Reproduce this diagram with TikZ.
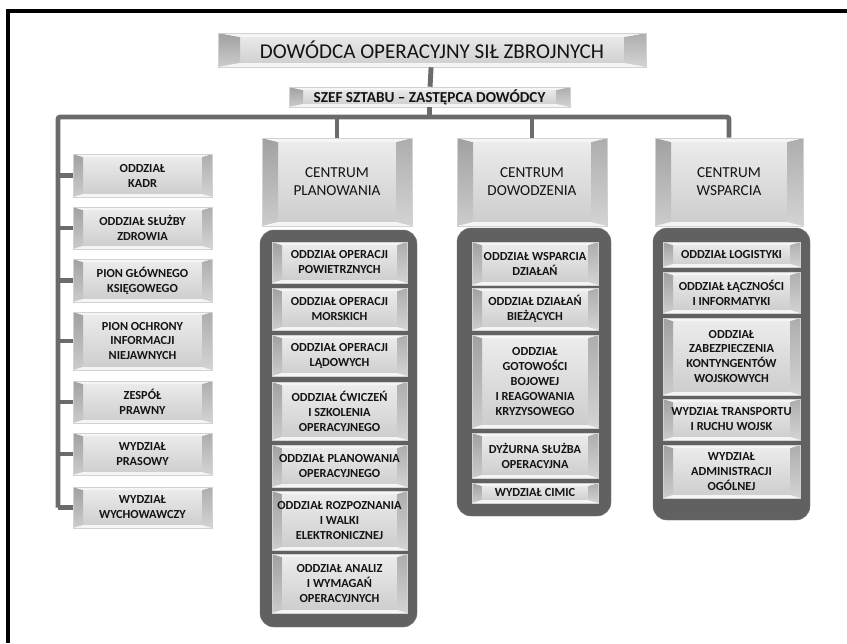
\documentclass[tikz,border=0pt]{standalone}
\usepackage{fontspec}
\setmainfont{Carlito}
\usepackage{tikz}
\tikzset{bev/.store in=\bevx, bevy/.store in=\bevy, bev=10, bevy=3}
% bevelled box between (x1,y1) and (x2,y2), sizes in px
\newcommand{\bevbox}[7][]{%
  \pgfmathsetmacro{\bw}{(#5-#3)*0.03}%
  \pgfmathsetmacro{\bh}{(#6-#4)*0.03}%
  \node[bevel,minimum width=\bw cm,minimum height=\bh cm,#1] (#2) at ({(#3+#5)/2},{(#4+#6)/2}) {#7};%
}
% a stack of boxes: prefix, x1, x2, {top/bottom/text,...}
\newcommand{\boxcol}[4]{%
  \foreach \ya/\yb/\txt [count=\i] in {#4}{
    \bevbox[sub]{#1\i}{#2}{\ya}{#3}{\yb}{\txt}
  }%
}

\begin{document}
\begin{tikzpicture}[x=0.03cm,y=-0.03cm,
    bevel/.style={draw=gray!35,line width=.5pt,top color=gray!14,bottom color=gray!40,
      text=black!92,align=center,inner sep=0pt,
      path picture={
        \shade[top color=gray!74,bottom color=gray!40] (path picture bounding box.north west) -- ++(\bevx,\bevy)
          -- ([shift={(\bevx,-\bevy)}]path picture bounding box.south west) -- (path picture bounding box.south west) -- cycle;
        \shade[top color=gray!64,bottom color=gray!34] (path picture bounding box.north east) -- ++(-\bevx,\bevy)
          -- ([shift={(-\bevx,-\bevy)}]path picture bounding box.south east) -- (path picture bounding box.south east) -- cycle;
        \fill[gray!8] (path picture bounding box.north west) -- (path picture bounding box.north east) -- ++(-\bevx,\bevy)
          -- ([shift={(\bevx,\bevy)}]path picture bounding box.north west) -- cycle;
        \fill[white!92!gray] (path picture bounding box.south west) -- (path picture bounding box.south east) -- ++(-\bevx,-\bevy)
          -- ([shift={(\bevx,-\bevy)}]path picture bounding box.south west) -- cycle;
      }},
    sub/.style={font=\bfseries\fontsize{10.5}{12.8}\selectfont},
    ctr/.style={bev=16,bevy=4,font=\fontsize{13}{15.4}\selectfont},
    pod/.style={fill=black!62,draw=black!55,rounded corners=12pt},
    conn/.style={draw=black!58,line width=4.2pt,rounded corners=2pt}]
  \useasboundingbox (0,0) rectangle (847,643);
  \draw[line width=2.6pt] (8,643) |- (847,11);

  % dark frames behind the three centres
  \path[pod] (260,230) rectangle (417,627);
  \path[pod] (457,228) rectangle (611,516);
  \path[pod] (653,228) rectangle (810,520);

  \bevbox[bev=22,bevy=4,font=\fontsize{18}{20}\selectfont]{dow}{218}{33}{646}{67}{DOWÓDCA OPERACYJNY SIŁ ZBROJNYCH}
  \bevbox[bev=14,bevy=3,font=\bfseries\fontsize{13}{15}\selectfont]{szef}{289}{87}{570}{107}{SZEF SZTABU – ZASTĘPCA DOWÓDCY}
  \bevbox[ctr]{cp}{262}{138}{412}{226}{CENTRUM\\PLANOWANIA}
  \bevbox[ctr]{cd}{457}{138}{607}{226}{CENTRUM\\DOWODZENIA}
  \bevbox[ctr]{cw}{655}{138}{803}{226}{CENTRUM\\WSPARCIA}

  \boxcol{l}{73}{212}{154/197/{ODDZIAŁ\\KADR}, 207/249/{ODDZIAŁ SŁUŻBY\\ZDROWIA},
    259/302/{PION GŁÓWNEGO\\KSIĘGOWEGO}, 312/370/{PION OCHRONY\\INFORMACJI\\NIEJAWNYCH},
    381/423/{ZESPÓŁ\\PRAWNY}, 433/475/{WYDZIAŁ\\PRASOWY}, 487/528/{WYDZIAŁ\\WYCHOWAWCZY}}
  \boxcol{p}{272}{407}{242/283/{ODDZIAŁ OPERACJI\\POWIETRZNYCH}, 288/330/{ODDZIAŁ OPERACJI\\MORSKICH},
    335/376/{ODDZIAŁ OPERACJI\\LĄDOWYCH}, 382/440/{ODDZIAŁ ĆWICZEŃ\\I SZKOLENIA\\OPERACYJNEGO},
    445/487/{ODDZIAŁ PLANOWANIA\\OPERACYJNEGO}, 491/550/{ODDZIAŁ ROZPOZNANIA\\I WALKI\\ELEKTRONICZNEJ},
    554/613/{ODDZIAŁ ANALIZ\\I WYMAGAŃ\\OPERACYJNYCH}}
  \boxcol{d}{472}{598}{242/285/{ODDZIAŁ WSPARCIA\\DZIAŁAŃ}, 288/330/{ODDZIAŁ DZIAŁAŃ\\BIEŻĄCYCH},
    335/428/{ODDZIAŁ\\GOTOWOŚCI\\BOJOWEJ\\I REAGOWANIA\\KRYZYSOWEGO},
    433/478/{DYŻURNA SŁUŻBA\\OPERACYJNA}, 483/503/{WYDZIAŁ CIMIC}}
  \boxcol{w}{663}{800}{242/267/{ODDZIAŁ LOGISTYKI}, 272/313/{ODDZIAŁ ŁĄCZNOŚCI\\I INFORMATYKI},
    318/395/{ODDZIAŁ\\ZABEZPIECZENIA\\KONTYNGENTÓW\\WOJSKOWYCH},
    399/440/{WYDZIAŁ TRANSPORTU\\I RUCHU WOJSK}, 445/498/{WYDZIAŁ\\ADMINISTRACJI\\OGÓLNEJ}}

  % connectors
  \coordinate (bl) at (58,117);
  \draw[conn] (dow) -- (szef);
  \draw[conn] (szef.south) -- (szef.south |- bl);
  \draw[conn] (bl |- l7) -- (bl) -| (cw.north);
  \draw[conn] (cp.north |- bl) -- (cp.north);
  \draw[conn] (cd.north |- bl) -- (cd.north);
  \foreach \i in {1,...,7}
    \draw[conn] (bl |- l\i) -- (l\i.west);
\end{tikzpicture}
\end{document}
